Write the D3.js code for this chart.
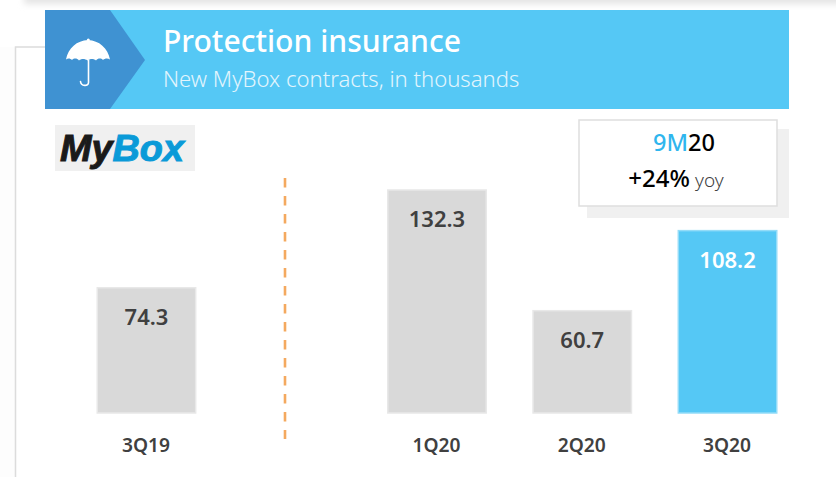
<!DOCTYPE html>
<html><head><meta charset="utf-8">
<script src="https://cdn.jsdelivr.net/npm/d3@7"></script>
<style>html,body{margin:0;padding:0;background:#fff;overflow:hidden}svg{display:block;font-family:"Noto Sans","Open Sans",sans-serif}</style>
</head><body><div id="c"></div>
<script>
const categories = ["3Q19", "", "1Q20", "2Q20", "3Q20"];
const shownCategories = ["3Q19", "1Q20", "2Q20", "3Q20"];
const values = [74.3, 132.3, 60.7, 108.2];
const highlighted = ["3Q20"];
const title = "Protection insurance";
const subtitle = "New MyBox contracts, in thousands";

const svg = d3.select("#c").append("svg").attr("width",836).attr("height",477);
const defs = svg.append("defs");
const blur = defs.append("filter").attr("id","b").attr("x","-5%").attr("y","-100%").attr("width","110%").attr("height","300%");
blur.append("feGaussianBlur").attr("stdDeviation",3);

// background frame & top shadow strip
svg.append("rect").attr("x",24).attr("y",-6).attr("width",830).attr("height",10).attr("fill","#e4e4e4").attr("filter","url(#b)");
svg.append("rect").attr("x",0).attr("y",47).attr("width",15).attr("height",430).attr("fill","#fdfdfd");
svg.append("path").attr("d","M15.5 477V47H60").attr("fill","none").attr("stroke","#dcdcdc").attr("stroke-width",1.5);

// banner
svg.append("rect").attr("x",45).attr("y",10).attr("width",744).attr("height",99).attr("fill","#55c8f5");
svg.append("path").attr("d","M45 10H110L145 60L110 109H45Z").attr("fill","#3f92d2");

// umbrella
const u = svg.append("g").attr("fill","#fff");
u.append("path").attr("d","M88 40C77 40.5 68 48 66 59.5C68 58 70 58 72 60C74 58 77 58 79 60.5C81 58.5 85 58.5 87.5 60.5C90 58.5 94 58.5 96 60.5C98 58 101 58 103 60C105 58 108 58 110 59.5C108 48 99 40.5 88 40Z");
svg.append("path").attr("d","M88.5 60V82.5C88.5 86.5 81 86.5 80.5 81.5").attr("fill","none").attr("stroke","#fff").attr("stroke-width",1.6).attr("stroke-linecap","round");
u.append("circle").attr("cx",88.3).attr("cy",40).attr("r",1.5);

svg.append("text").attr("x",163).attr("y",52).attr("fill","#fff").attr("font-size",30.1).attr("font-weight",500).text(title);
svg.append("text").attr("x",163).attr("y",87).attr("fill","#e2f5fd").attr("font-size",22.1).attr("font-weight",300).text(subtitle);

// MyBox logo
svg.append("rect").attr("x",55).attr("y",125).attr("width",140).attr("height",46).attr("fill","#f0f0f0");
const logo = svg.append("text").attr("x",60).attr("y",161).attr("font-family","'Liberation Sans',Arial,sans-serif").attr("font-size",37.8).attr("font-weight",700).attr("font-style","italic").attr("stroke-width",1);
logo.append("tspan").attr("fill","#1a1a1a").attr("stroke","#1a1a1a").text("My");
logo.append("tspan").attr("fill","#0a9ad8").attr("stroke","#0a9ad8").text("Box");

// scales
const x = d3.scaleBand().domain(categories).range([97,778]).paddingInner(0.312).paddingOuter(0);
const y = d3.scaleLinear().domain([0,132.3]).range([413,190]);

// bars
const rows = shownCategories.map((c,i)=>({c,v:values[i],hi:highlighted.includes(c)}));
svg.selectAll("rect.bar").data(rows).join("rect").attr("class","bar")
  .attr("x",d=>x(d.c)+.25).attr("y",d=>y(d.v)).attr("width",x.bandwidth()-1.5).attr("height",d=>413-y(d.v))
  .attr("fill",d=>d.hi?"#55c8f5":"#d9d9d9").attr("stroke",d=>d.hi?"#93dcf8":"#e8e8e8").attr("stroke-width",1.5);
svg.selectAll("text.val").data(rows).join("text").attr("class","val")
  .attr("x",d=>x(d.c)+x.bandwidth()/2-.5).attr("y",d=>y(d.v)+37).attr("text-anchor","middle")
  .attr("font-size",22).attr("font-weight",600).attr("fill",d=>d.hi?"#fff":"#404040").text(d=>d.v.toFixed(1));

// axis labels
const axis = d3.axisBottom(x).tickSize(0).tickPadding(0).tickValues(shownCategories);
const ga = svg.append("g").attr("transform","translate(-1,434)").call(axis);
ga.select(".domain").remove();
ga.attr("font-family",null);
ga.selectAll("text").attr("font-size",19.2).attr("font-weight",600).attr("fill","#404040").attr("dy","0.95em").attr("y",0);

// divider
svg.append("line").attr("x1",285).attr("x2",285).attr("y1",178).attr("y2",439).attr("stroke","#f4a95f").attr("stroke-width",2.6).attr("stroke-dasharray","9.5 8.5");

// callout
svg.append("rect").attr("x",587).attr("y",129).attr("width",202).attr("height",89).attr("fill","#f0f0f0");
svg.append("rect").attr("x",579).attr("y",120).attr("width",198).attr("height",86).attr("fill","#fff").attr("stroke","#dedede").attr("stroke-width",1.5);
const t1 = svg.append("text").attr("x",684).attr("y",151).attr("text-anchor","middle").attr("font-size",23.5).attr("font-weight",500);
t1.append("tspan").attr("fill","#2fb6ee").text("9M");
t1.append("tspan").attr("fill","#000").text("20");
const t2 = svg.append("text").attr("x",676).attr("y",187).attr("text-anchor","middle").attr("font-size",24);
t2.append("tspan").attr("fill","#000").attr("font-weight",500).text("+24%");
t2.append("tspan").attr("fill","#404040").attr("font-size",19).attr("font-weight",300).attr("dx",5).text("yoy");
</script></body></html>
